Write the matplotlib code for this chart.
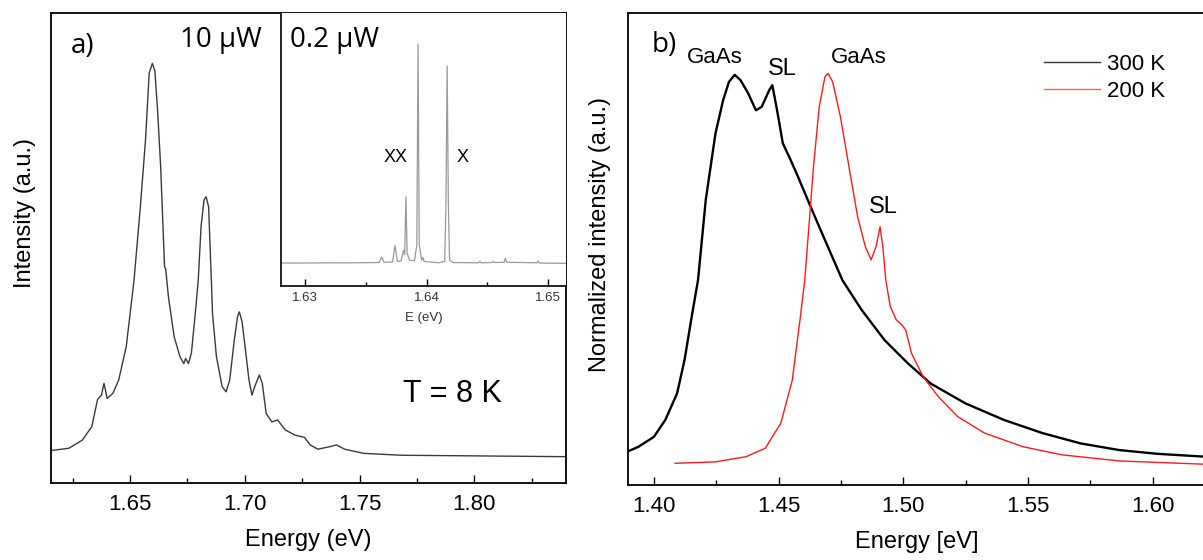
import matplotlib
matplotlib.use("Agg")
import matplotlib.pyplot as plt
from matplotlib.ticker import MultipleLocator
from matplotlib.lines import Line2D

plt.rcParams['font.family'] = ['Liberation Sans', 'DejaVu Sans']

# ---- a) PL spectrum, 10 uW, T = 8 K ----
e_10uw = [1.6155, 1.6233, 1.6291, 1.6333, 1.6358, 1.6375, 1.6386, 1.6400, 1.6425,
          1.6450, 1.6483, 1.6517, 1.6545, 1.6567, 1.6583, 1.6597, 1.6608, 1.6620,
          1.6633, 1.6650, 1.6655, 1.6667, 1.6692, 1.6717, 1.6734, 1.6742, 1.6754,
          1.6767, 1.6784, 1.6797, 1.6809, 1.6822, 1.6831, 1.6842, 1.6854, 1.6859,
          1.6876, 1.6901, 1.6918, 1.6934, 1.6954, 1.6968, 1.6976, 1.6988, 1.7001,
          1.7018, 1.7031, 1.7043, 1.7063, 1.7076, 1.7093, 1.7118, 1.7143, 1.7176,
          1.7218, 1.7260, 1.7285, 1.7318, 1.7369, 1.7399, 1.7435, 1.7519, 1.7686,
          1.7936, 1.8400]
i_10uw = [0.069, 0.074, 0.091, 0.120, 0.178, 0.187, 0.212, 0.180, 0.191,
          0.219, 0.290, 0.432, 0.590, 0.730, 0.872, 0.893, 0.876, 0.790,
          0.673, 0.460, 0.455, 0.396, 0.311, 0.269, 0.254, 0.265, 0.254,
          0.276, 0.361, 0.432, 0.545, 0.602, 0.609, 0.588, 0.432, 0.361,
          0.269, 0.205, 0.194, 0.219, 0.304, 0.354, 0.364, 0.343, 0.290,
          0.219, 0.187, 0.205, 0.230, 0.212, 0.148, 0.130, 0.134, 0.113,
          0.102, 0.097, 0.081, 0.072, 0.077, 0.081, 0.072, 0.063, 0.059,
          0.058, 0.056]

# ---- inset, 0.2 uW ----
e_02uw = [1.6280, 1.6340, 1.6361, 1.6363, 1.6365, 1.6372, 1.6374, 1.6376, 1.6379,
          1.6381, 1.6382, 1.6383, 1.6384, 1.6386, 1.6390, 1.6392, 1.6393, 1.6394,
          1.6396, 1.6397, 1.6398, 1.6405, 1.6410, 1.6415, 1.6416, 1.6417, 1.6418,
          1.6419, 1.6422, 1.6443, 1.6444, 1.6445, 1.6454, 1.6455, 1.6456, 1.6464,
          1.6465, 1.6466, 1.6491, 1.6492, 1.6493, 1.6515]
i_02uw = [0.084, 0.085, 0.086, 0.106, 0.087, 0.088, 0.148, 0.090, 0.092,
          0.130, 0.115, 0.327, 0.120, 0.095, 0.092, 0.150, 0.886, 0.150,
          0.094, 0.105, 0.090, 0.087, 0.085, 0.090, 0.300, 0.806, 0.300,
          0.095, 0.086, 0.085, 0.091, 0.085, 0.086, 0.090, 0.086, 0.087,
          0.102, 0.087, 0.085, 0.092, 0.084, 0.083]

# ---- b) normalized spectra ----
e_300k = [1.3895, 1.3938, 1.4000, 1.4046, 1.4093, 1.4123, 1.4154, 1.4177, 1.4208,
          1.4247, 1.4278, 1.4301, 1.4324, 1.4347, 1.4378, 1.4409, 1.4432, 1.4463,
          1.4475, 1.4494, 1.4517, 1.4548, 1.4578, 1.4617, 1.4663, 1.4709, 1.4756,
          1.4833, 1.4925, 1.5018, 1.5110, 1.5249, 1.5403, 1.5558, 1.5712, 1.5866,
          1.6020, 1.6210]
i_300k = [0.071, 0.081, 0.102, 0.138, 0.194, 0.265, 0.364, 0.434, 0.604,
          0.745, 0.816, 0.854, 0.869, 0.858, 0.830, 0.794, 0.801, 0.837,
          0.847, 0.794, 0.724, 0.689, 0.653, 0.604, 0.547, 0.491, 0.434,
          0.371, 0.307, 0.258, 0.215, 0.173, 0.138, 0.110, 0.088, 0.074,
          0.066, 0.060]

e_200k = [1.4085, 1.4247, 1.4370, 1.4447, 1.4509, 1.4555, 1.4586, 1.4605, 1.4640,
          1.4663, 1.4686, 1.4699, 1.4717, 1.4748, 1.4787, 1.4817, 1.4848, 1.4871,
          1.4891, 1.4907, 1.4918, 1.4930, 1.4948, 1.4972, 1.4995, 1.5010, 1.5033,
          1.5080, 1.5141, 1.5218, 1.5326, 1.5481, 1.5635, 1.5866, 1.6210]
i_200k = [0.046, 0.049, 0.060, 0.078, 0.131, 0.222, 0.350, 0.434, 0.674,
          0.801, 0.865, 0.872, 0.854, 0.780, 0.660, 0.568, 0.505, 0.477,
          0.505, 0.547, 0.505, 0.434, 0.378, 0.350, 0.339, 0.328, 0.279,
          0.229, 0.187, 0.145, 0.110, 0.081, 0.064, 0.051, 0.044]

W, H = 1203, 560
fig = plt.figure(figsize=(W / 100, H / 100), dpi=100)


def fx(x):
    return x / W


def fy(y):
    return 1 - y / H


def style_axis(ax, major, minor, size, length=6):
    ax.xaxis.set_major_locator(MultipleLocator(major))
    ax.xaxis.set_minor_locator(MultipleLocator(minor))
    ax.xaxis.set_major_formatter(plt.FuncFormatter(lambda v, p: f"{v:.2f}"))
    ax.tick_params(axis='x', which='both', direction='in', top=False, labelsize=size)
    ax.tick_params(axis='x', which='major', length=length, width=1.0)
    ax.tick_params(axis='x', which='minor', length=length * 0.6, width=1.0)
    ax.set_yticks([])


# left panel
ax1 = fig.add_axes([fx(51), fy(483), fx(566 - 51), (483 - 13) / H])
ax1.plot(e_10uw, i_10uw, color='#3a3a3a', lw=1.0)
ax1.set_xlim(1.6155, 1.840)
ax1.set_ylim(0, 1)
style_axis(ax1, 0.05, 0.025, 16)
ax1.tick_params(axis='x', pad=8)
for s in ax1.spines.values():
    s.set_linewidth(1.3)
ax1.set_xlabel("Energy (eV)", fontsize=17, labelpad=10)
ax1.set_ylabel("Intensity (a.u.)", fontsize=17)
ax1.yaxis.set_label_coords(-0.029, 0.574)

# inset
ax_in = fig.add_axes([fx(281), fy(286), fx(566 - 281), (286 - 13) / H])
ax_in.plot(e_02uw, i_02uw, color='#9a9a9a', lw=0.9)
ax_in.set_xlim(1.628, 1.6515)
ax_in.set_ylim(0, 1)
style_axis(ax_in, 0.01, 0.005, 9.5, length=5)
ax_in.tick_params(axis='x', pad=4, labelcolor='#333333')
ax_in.spines['top'].set_visible(False)
ax_in.spines['right'].set_visible(False)
ax_in.spines['left'].set_linewidth(1.2)
ax_in.spines['bottom'].set_linewidth(1.2)
ax_in.set_xlabel("E (eV)", fontsize=9.5, color='#333333', labelpad=6)

# right panel
ax2 = fig.add_axes([fx(627.7), fy(485), fx(1205 - 627.7), (485 - 13) / H])
ax2.plot(e_300k, i_300k, color='black', lw=1.7)
ax2.plot(e_200k, i_200k, color='#ff1a1a', lw=1.0)
ax2.set_xlim(1.3895, 1.621)
ax2.set_ylim(0, 1)
style_axis(ax2, 0.05, 0.025, 16)
ax2.tick_params(axis='x', pad=8)
for s in ax2.spines.values():
    s.set_linewidth(1.3)
ax2.set_xlabel("Energy [eV]", fontsize=17, labelpad=10)
ax2.set_ylabel("Normalized intensity (a.u.)", fontsize=17)
ax2.yaxis.set_label_coords(-0.029, 0.53)
handles = [Line2D([], [], color='#333333', lw=1.0), Line2D([], [], color='#f06060', lw=1.0)]
ax2.legend(handles, ['300 K', '200 K'], loc='upper left', bbox_to_anchor=(fx(1044), fy(54)),
           bbox_transform=fig.transFigure, frameon=False, fontsize=16, borderpad=0,
           borderaxespad=0, handlelength=2.5, handletextpad=0.35, labelspacing=0.25)

# annotations
big = ['Open Sans', 'DejaVu Sans']
fig.text(fx(71), fy(53), "a)", fontsize=20, family=big, va='baseline')
fig.text(fx(180), fy(46.7), "10 μW", fontsize=20, family=big, va='baseline')
fig.text(fx(290), fy(46.7), "0.2 μW", fontsize=20, family=big, va='baseline')
fig.text(fx(403), fy(401.7), "T = 8 K", fontsize=22, va='baseline')
fig.text(fx(384), fy(161.7), "XX", fontsize=13, va='baseline')
fig.text(fx(456.7), fy(161.7), "X", fontsize=13, va='baseline')

fig.text(fx(651.7), fy(52), "b)", fontsize=20, family=big, va='baseline')
fig.text(fx(686.7), fy(63.3), "GaAs", fontsize=16, va='baseline')
fig.text(fx(768), fy(75), "SL", fontsize=17, va='baseline')
fig.text(fx(830.7), fy(63.3), "GaAs", fontsize=16, va='baseline')
fig.text(fx(869), fy(213), "SL", fontsize=17, va='baseline')

fig.savefig("out.png", dpi=100)
